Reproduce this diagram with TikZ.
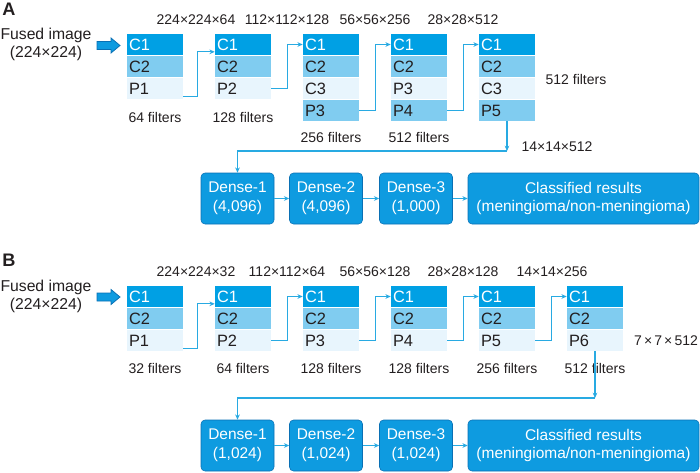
\documentclass[tikz,border=0pt]{standalone}
\usepackage{fontspec}
\setmainfont{Liberation Sans}
\usetikzlibrary{positioning,arrows.meta}
\definecolor{convdark}{RGB}{0,160,228}
\definecolor{convmid}{RGB}{128,204,240}
\definecolor{convpale}{RGB}{232,245,253}
\definecolor{densefill}{RGB}{14,155,224}
\definecolor{denseline}{RGB}{10,112,180}
\definecolor{linkblue}{RGB}{40,170,226}
\definecolor{inktext}{RGB}{35,31,32}
\newcommand{\tms}{\kern1.6pt×\kern1.6pt}

\begin{document}
\begin{tikzpicture}[x=0.75pt, y=-0.75pt, node distance=16.5pt,
	cell/.style = {minimum height=15.4pt, text width=39pt, inner xsep=1.5pt, inner ysep=0pt, align=left, font=\fontsize{12.3}{13}\selectfont, text=inktext},
	c1/.style = {cell, fill=convdark, text=white},
	c2/.style = {cell, fill=convmid},
	pl/.style = {cell, fill=convpale},
	dense/.style = {draw=denseline, fill=densefill, rounded corners=3pt, text=white, minimum height=38.25pt, minimum width=54.75pt, inner sep=0pt, align=center, font=\fontsize{11.6}{14}\selectfont},
	lbl/.style = {text=inktext, font=\fontsize{10.5}{12}\selectfont, inner sep=0pt},
	big/.style = {text=inktext, font=\fontsize{11.8}{13.5}\selectfont, align=center, inner sep=0pt},
	panel/.style = {text=inktext, font=\bfseries\fontsize{13.6}{15}\selectfont, inner sep=0pt},
	link/.style = {draw=linkblue, line width=0.9pt, -{Stealth[length=4pt,width=3.5pt]}},
	inarrow/.style = {draw=denseline, fill=densefill, line width=0.6pt, line join=miter}]
	\useasboundingbox (0,0) rectangle (700,472);

	% Panel A
	\node[panel] (labA) at (9,9) {A};
	\node[big] (fusedA) at (46,44.5) {Fused image\\(224×224)};
	\draw[inarrow] (97,41.5) -- (111,41.5) -- (111,38) -- (120,45.5) -- (111,53) -- (111,49.5) -- (97,49.5) -- cycle;

	\node[lbl] (dA1) at (196,20) {224×224×64};
	\node[lbl] (dA2) at (287,20) {112×112×128};
	\node[lbl] (dA3) at (375,20) {56×56×256};
	\node[lbl] (dA4) at (463,20) {28×28×512};

	\node[c1] (A1c1) at (155,44.5) {C1};
	\node[c2] (A1c2) [below of=A1c1] {C2};
	\node[pl] (A1p) [below of=A1c2] {P1};
	\node[lbl] (fA1) at (155,117) {64 filters};

	\node[c1] (A2c1) at (243,44.5) {C1};
	\node[c2] (A2c2) [below of=A2c1] {C2};
	\node[pl] (A2p) [below of=A2c2] {P2};
	\node[lbl] (fA2) at (243,117) {128 filters};

	\node[c1] (A3c1) at (331,44.5) {C1};
	\node[c2] (A3c2) [below of=A3c1] {C2};
	\node[pl] (A3c3) [below of=A3c2] {C3};
	\node[c2] (A3p) [below of=A3c3] {P3};
	\node[lbl] (fA3) at (331,137) {256 filters};

	\node[c1] (A4c1) at (419,44.5) {C1};
	\node[c2] (A4c2) [below of=A4c1] {C2};
	\node[pl] (A4c3) [below of=A4c2] {P3};
	\node[c2] (A4p) [below of=A4c3] {P4};
	\node[lbl] (fA4) at (419,137) {512 filters};

	\node[c1] (A5c1) at (507,44.5) {C1};
	\node[c2] (A5c2) [below of=A5c1] {C2};
	\node[pl] (A5c3) [below of=A5c2] {C3};
	\node[c2] (A5p) [below of=A5c3] {P5};
	\node[lbl] (fA5) at (576,79) {512 filters};

	\coordinate (jA) at (507,151);
	\node[lbl] (sA) at (557,147) {14×14×512};

	\node[dense] (AD1) at (237.5,198.5) {Dense-1\\(4,096)};
	\node[dense] (AD2) at (326,198.5) {Dense-2\\(4,096)};
	\node[dense] (AD3) at (416,198.5) {Dense-3\\(1,000)};
	\node[dense, minimum width=173.25pt] (AR) at (583.5,198.5) {Classified results\\(meningioma/non-meningioma)};

	\draw[link] ([yshift=-6pt]A1p.east) -- ++(14,0) |- ([yshift=-5.5pt]A2c1.west);
	\draw[link] (A2p.east) -- ++(16,0) |- (A3c1.west);
	\draw[link] (A3p.east) -- ++(16,0) |- (A4c1.west);
	\draw[link] (A4p.east) -- ++(16,0) |- (A5c1.west);
	\draw[link] (A5p.south) -- (jA);
	\draw[link] (jA) -| (AD1.north);
	\draw[link] (AD1) -- (AD2);
	\draw[link] (AD2) -- (AD3);
	\draw[link] (AD3) -- (AR);

	% Panel B
	\node[panel] (labB) at (9,260) {B};
	\node[big] (fusedB) at (46,296) {Fused image\\(224×224)};
	\draw[inarrow, shift={(0,251.5)}] (97,41.5) -- (111,41.5) -- (111,38) -- (120,45.5) -- (111,53) -- (111,49.5) -- (97,49.5) -- cycle;

	\node[lbl] (dB1) at (196,272) {224×224×32};
	\node[lbl] (dB2) at (287,272) {112×112×64};
	\node[lbl] (dB3) at (375,272) {56×56×128};
	\node[lbl] (dB4) at (463,272) {28×28×128};
	\node[lbl] (dB5) at (552,272) {14×14×256};

	\node[c1] (B1c1) at (155,296.5) {C1};
	\node[c2] (B1c2) [below of=B1c1] {C2};
	\node[pl] (B1p) [below of=B1c2] {P1};
	\node[lbl] (fB1) at (155,368) {32 filters};

	\node[c1] (B2c1) at (243,296.5) {C1};
	\node[c2] (B2c2) [below of=B2c1] {C2};
	\node[pl] (B2p) [below of=B2c2] {P2};
	\node[lbl] (fB2) at (243,368) {64 filters};

	\node[c1] (B3c1) at (331,296.5) {C1};
	\node[c2] (B3c2) [below of=B3c1] {C2};
	\node[pl] (B3p) [below of=B3c2] {P3};
	\node[lbl] (fB3) at (331,368) {128 filters};

	\node[c1] (B4c1) at (419,296.5) {C1};
	\node[c2] (B4c2) [below of=B4c1] {C2};
	\node[pl] (B4p) [below of=B4c2] {P4};
	\node[lbl] (fB4) at (419,368) {128 filters};

	\node[c1] (B5c1) at (507,296.5) {C1};
	\node[c2] (B5c2) [below of=B5c1] {C2};
	\node[pl] (B5p) [below of=B5c2] {P5};
	\node[lbl] (fB5) at (507,368) {256 filters};

	\node[c1] (B6c1) at (595,296.5) {C1};
	\node[c2] (B6c2) [below of=B6c1] {C2};
	\node[pl] (B6p) [below of=B6c2] {P6};
	\node[lbl] (fB6) at (595,368) {512 filters};

	\node[lbl] (sB) at (666,341) {7\tms 7\tms 512};
	\coordinate (jB) at (595,398);

	\node[dense] (BD1) at (237.5,445.5) {Dense-1\\(1,024)};
	\node[dense] (BD2) at (326,445.5) {Dense-2\\(1,024)};
	\node[dense] (BD3) at (416,445.5) {Dense-3\\(1,024)};
	\node[dense, minimum width=173.25pt] (BR) at (583.5,445.5) {Classified results\\(meningioma/non-meningioma)};

	\draw[link] ([yshift=-6pt]B1p.east) -- ++(14,0) |- ([yshift=-5.5pt]B2c1.west);
	\draw[link] (B2p.east) -- ++(16,0) |- (B3c1.west);
	\draw[link] (B3p.east) -- ++(16,0) |- (B4c1.west);
	\draw[link] (B4p.east) -- ++(16,0) |- (B5c1.west);
	\draw[link] (B5p.east) -- ++(16,0) |- (B6c1.west);
	\draw[link] (B6p.south) -- (jB);
	\draw[link] (jB) -| (BD1.north);
	\draw[link] (BD1) -- (BD2);
	\draw[link] (BD2) -- (BD3);
	\draw[link] (BD3) -- (BR);
\end{tikzpicture}
\end{document}
